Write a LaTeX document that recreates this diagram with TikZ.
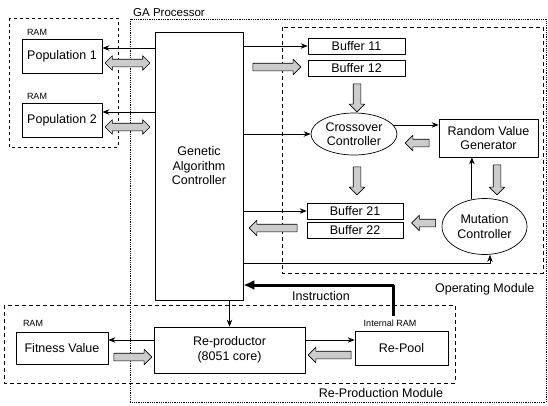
\documentclass[tikz,border=0pt]{standalone}
\usepackage{fontspec}
\setmainfont{Liberation Sans}
\usetikzlibrary{shapes.geometric,shapes.arrows,arrows.meta}
\tikzset{
	box/.style={draw, line width=0.7pt, inner sep=1pt, align=center},
	oval/.style={draw, ellipse, line width=0.7pt, inner sep=0pt, align=center},
	small/.style={font=\fontsize{9}{10}\selectfont},
	module/.style={line width=0.6pt, dash pattern=on 4pt off 3pt},
	hollow/.style={single arrow, draw, line width=0.6pt, fill=gray!40,
		inner xsep=0pt, inner ysep=3.5pt, single arrow head extend=4pt, minimum height=#1},
	twoway/.style={double arrow, draw, line width=0.6pt, fill=gray!40,
		inner xsep=0pt, inner ysep=3.5pt, double arrow head extend=3.5pt, minimum height=#1}
}
\begin{document}
\begin{tikzpicture}[x=1pt, y=-1pt, line join=round, >={Stealth[length=7pt,width=5.5pt]}, font=\fontsize{12.5}{14.5}\selectfont]
	\useasboundingbox (0,0) rectangle (548,405);
	% module frames
	\draw[line width=0.6pt, dashed] (9,18) rectangle (118,147);
	\draw[line width=0.8pt, densely dotted] (130,19) rectangle (546,402);
	\node[anchor=south west, inner sep=1pt, font=\fontsize{11.5}{13}\selectfont] (gaproc) at (132,18) {GA Processor};
	\draw[module] (282,27) rectangle (543,273);
	\node[anchor=east] (opmod) at (538,289) {Operating Module};
	\draw[module] (4,305) rectangle (455,383);
	\node (repmod) at (381,393) {Re-Production Module};
	% memories
	\node[small] (ram1) at (37,32) {RAM};
	\node[box, minimum width=80, minimum height=34] (pop1) at (62,56) {Population 1};
	\node[small] (ram2) at (37,96) {RAM};
	\node[box, minimum width=80, minimum height=34] (pop2) at (62,120) {Population 2};
	\node[small] (ram3) at (33,323) {RAM};
	\node[box, minimum width=92, minimum height=32] (fit) at (62,348) {Fitness Value};
	% processor blocks
	\node[box, minimum width=88, minimum height=268] (gac) at (199,166) {Genetic\\Algorithm\\Controller};
	\node[box, minimum width=97, minimum height=16] (buf11) at (356.5,46) {Buffer 11};
	\node[box, minimum width=97, minimum height=16] (buf12) at (356.5,68) {Buffer 12};
	\node[oval, minimum width=86, minimum height=42] (cross) at (354,134) {Crossover\\Controller};
	\node[box, minimum width=99, minimum height=38] (rvg) at (488.5,138) {Random Value\\Generator};
	\node[box, minimum width=96, minimum height=16] (buf21) at (355,211) {Buffer 21};
	\node[box, minimum width=96, minimum height=16] (buf22) at (355,230) {Buffer 22};
	\node[oval, minimum width=85, minimum height=56] (mut) at (484.5,226.5) {Mutation\\Controller};
	\node[box, minimum width=151, minimum height=46] (repr) at (229.5,350) {Re-productor\\(8051 core)};
	\node[small] (iram) at (390,323) {Internal RAM};
	\node[box, minimum width=93, minimum height=34] (pool) at (401.5,348) {Re-Pool};
	% control lines
	\draw[->, line width=0.8pt] (gac.west |- 0,48) -- (pop1.east |- 0,48);
	\draw[->, line width=0.8pt] (gac.west |- 0,112) -- (pop2.east |- 0,112);
	\draw[->, line width=0.8pt] (gac.east |- buf11) -- (buf11.west);
	\draw[->, line width=0.8pt] (gac.east |- cross) -- (cross.west);
	\draw[->, line width=0.8pt] (cross.13) -- (cross.13 -| rvg.west);
	\draw[->, line width=0.8pt] (mut.115) -- (mut.115 |- rvg.south);
	\draw[->, line width=0.8pt] (gac.east |- buf21) -- (buf21.west);
	\draw[->, line width=0.8pt] (gac.east |- 0,263) -| ([xshift=5.5pt]mut.south);
	\draw[->, line width=0.8pt] (gac.south -| repr) -- (repr.north);
	\draw[->, line width=0.8pt] (repr.west |- 0,340) -- (fit.east |- 0,340);
	\draw[->, line width=0.8pt] (repr.east |- 0,340) -- (pool.west |- 0,340);
	\draw[-{Latex[length=11pt,width=10pt]}, line width=3pt] ([xshift=3pt]iram.north) |- (gac.east |- 0,285);
	\node (instr) at (321,296) {Instruction};
	% data paths
	\node[twoway=45] (d1) at (127.5,63) {};
	\node[twoway=45] (d2) at (127.5,127) {};
	\node[hollow=48] (d3) at (275,67) {};
	\node[hollow=28, rotate=-90] (d4) at (357,96) {};
	\node[hollow=28, rotate=-90] (d5) at (357,179) {};
	\node[hollow=24, rotate=180] (d6) at (419,143) {};
	\node[hollow=30, rotate=-90] (d7) at (497,178) {};
	\node[hollow=48, rotate=180] (d8) at (275,228) {};
	\node[hollow=24, rotate=180] (d9) at (425.5,223) {};
	\node[hollow=38] (d10) at (131,357) {};
	\node[hollow=43, rotate=180] (d11) at (331.5,355) {};
\end{tikzpicture}
\end{document}
